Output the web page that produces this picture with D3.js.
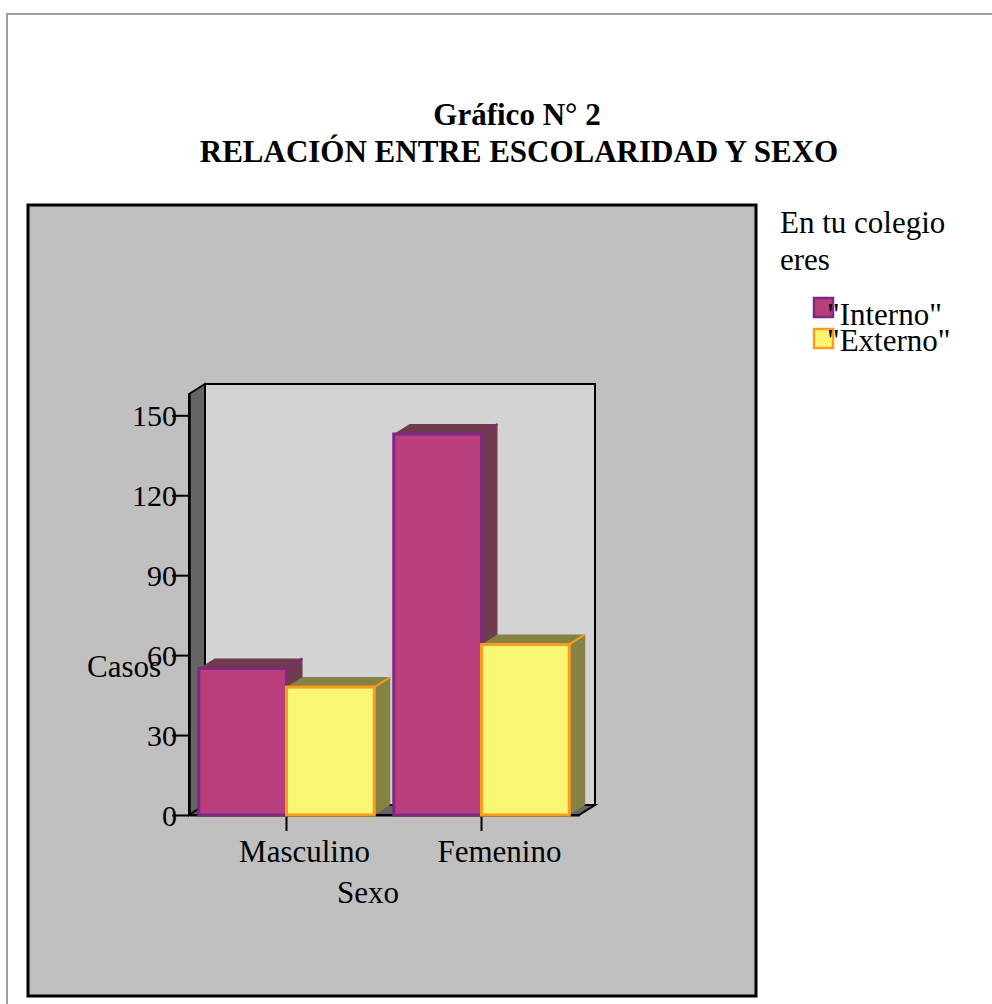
<!DOCTYPE html>
<html>
<head>
<meta charset="utf-8">
<script src="https://cdn.jsdelivr.net/npm/d3@7"></script>
<style>
  body { margin: 0; background: #fff; }
  svg text { font-family: "Liberation Serif", "Times New Roman", serif; }
</style>
</head>
<body>
<div id="chart"></div>
<script>
(function () {

  const categories = ['Masculino', 'Femenino'];
  const seriesNames = ['"Interno"', '"Externo"'];
  const interno = [55, 143];
  const externo = [48, 64];
  const yTicks = [0, 30, 60, 90, 120, 150];

  const width = 992,
    height = 1004,
    depth = { dx: 16, dy: -10 };

  const svg = d3
    .select('#chart')
    .append('svg')
    .attr('width', width)
    .attr('height', height);

  // page frame
  svg.append('path')
    .attr('d', 'M7,1004 L7,14 L992,14')
    .attr('fill', 'none')
    .attr('stroke', '#a0a0a0')
    .attr('stroke-width', 2);

  // title
  const title = svg.append('text')
    .attr('text-anchor', 'middle')
    .attr('font-weight', 'bold')
    .attr('font-size', 31);
  title.append('tspan').attr('x', 517).attr('y', 125).text('Gráfico N° 2');
  title.append('tspan').attr('x', 519).attr('y', 162).text('RELACIÓN ENTRE ESCOLARIDAD Y SEXO');

  // plot area box
  svg.append('rect')
    .attr('x', 28).attr('y', 205)
    .attr('width', 728).attr('height', 791)
    .attr('fill', '#c0c0c0')
    .attr('stroke', '#000')
    .attr('stroke-width', 3);

  const rows = categories.map((c, i) => ({ cat: c, values: [interno[i], externo[i]] }));

  const x0 = d3.scaleBand()
    .domain(categories)
    .range([189, 579])
    .paddingInner(0.1)
    .paddingOuter(0.05);

  const x1 = d3.scaleBand()
    .domain(seriesNames)
    .range([0, x0.bandwidth()]);

  const y = d3.scaleLinear().domain([0, 158]).range([815, 394]);

  const fills = ['#ba3e7b', '#faf673'];
  const borders = ['#7e2a82', '#f99d1c'];
  const shades = ['#6f3c4d', '#868145'];

  const [xa, xb] = x0.range();
  const [yb, yt] = y.range();
  const pts = p => p.map(d => d.join(',')).join(' ');

  // back wall
  svg.append('rect')
    .attr('x', xa + depth.dx).attr('y', yt + depth.dy)
    .attr('width', xb - xa).attr('height', yb - yt)
    .attr('fill', '#d3d3d3')
    .attr('stroke', '#000')
    .attr('stroke-width', 2);

  // left wall
  svg.append('polygon')
    .attr('points', pts([[xa, yt], [xa + depth.dx, yt + depth.dy], [xa + depth.dx, yb + depth.dy], [xa, yb]]))
    .attr('fill', '#656565')
    .attr('stroke', '#000')
    .attr('stroke-width', 2);

  // floor
  svg.append('polygon')
    .attr('points', pts([[xa, yb], [xa + depth.dx, yb + depth.dy], [xb + depth.dx, yb + depth.dy], [xb, yb]]))
    .attr('fill', '#656565')
    .attr('stroke', '#000')
    .attr('stroke-width', 2);

  // x axis
  const xAxis = d3.axisBottom(x0).tickSize(16).tickSizeOuter(0);
  const gx = svg.append('g')
    .attr('transform', `translate(0, ${yb})`)
    .call(xAxis);
  gx.select('.domain').attr('stroke', '#000').attr('stroke-width', 2);
  gx.selectAll('.tick line').attr('stroke', '#000').attr('stroke-width', 2);
  gx.selectAll('.tick text')
    .attr('font-family', '"Liberation Serif", serif')
    .attr('font-size', 31)
    .attr('fill', '#000')
    .attr('x', 18)
    .attr('y', 47)
    .attr('dy', 0);

  // bars
  const groups = svg.selectAll('.grp')
    .data(rows)
    .enter()
    .append('g')
    .attr('class', 'grp');

  groups.each(function (row) {
    const g = d3.select(this);
    row.values.forEach((v, i) => {
      const bx0 = x0(row.cat) + x1(seriesNames[i]);
      const bx1 = bx0 + x1.bandwidth();
      const top = y(v);
      g.append('polygon')
        .attr('points', pts([[bx0, top], [bx0 + depth.dx, top + depth.dy], [bx1 + depth.dx, top + depth.dy], [bx1, top]]))
        .attr('fill', shades[i]);
      g.append('polygon')
        .attr('points', pts([[bx1, top], [bx1 + depth.dx, top + depth.dy], [bx1 + depth.dx, yb + depth.dy], [bx1, yb]]))
        .attr('fill', shades[i]);
      g.append('line')
        .attr('x1', bx1).attr('y1', top)
        .attr('x2', bx1 + depth.dx).attr('y2', top + depth.dy)
        .attr('stroke', borders[i])
        .attr('stroke-width', 2);
      g.append('rect')
        .attr('x', bx0).attr('y', top)
        .attr('width', bx1 - bx0).attr('height', yb - top)
        .attr('fill', fills[i])
        .attr('stroke', borders[i])
        .attr('stroke-width', 3);
    });
  });

  // y axis
  const yAxis = d3.axisLeft(y).tickValues(yTicks).tickSize(17).tickSizeOuter(0);
  const gy = svg.append('g')
    .attr('transform', `translate(${xa}, 0)`)
    .call(yAxis);
  gy.select('.domain').attr('stroke', '#000').attr('stroke-width', 2.5);
  gy.selectAll('.tick line').attr('stroke', '#000').attr('stroke-width', 2);
  gy.selectAll('.tick text')
    .attr('font-family', '"Liberation Serif", serif')
    .attr('font-size', 30)
    .attr('fill', '#000')
    .attr('x', -12)
    .attr('dy', '0.34em');

  // axis titles
  svg.append('text')
    .attr('x', 87).attr('y', 677)
    .attr('font-size', 31)
    .text('Casos');

  svg.append('text')
    .attr('x', 368).attr('y', 903)
    .attr('text-anchor', 'middle')
    .attr('font-size', 31)
    .text('Sexo');

  // legend
  const legTitle = svg.append('text').attr('font-size', 31);
  legTitle.append('tspan').attr('x', 780).attr('y', 233).text('En tu colegio');
  legTitle.append('tspan').attr('x', 780).attr('y', 270).text('eres');

  const leg = svg.selectAll('.leg')
    .data(seriesNames)
    .enter()
    .append('g')
    .attr('class', 'leg')
    .attr('transform', (d, i) => `translate(814, ${298 + i * 31})`);

  leg.append('rect')
    .attr('width', 19).attr('height', 19)
    .attr('fill', (d, i) => fills[i])
    .attr('stroke', (d, i) => borders[i])
    .attr('stroke-width', 2.5);

  leg.append('text')
    .attr('x', 13)
    .attr('y', (d, i) => 27 - i * 5)
    .attr('font-size', 31)
    .text(d => d);

})();
</script>
</body>
</html>
